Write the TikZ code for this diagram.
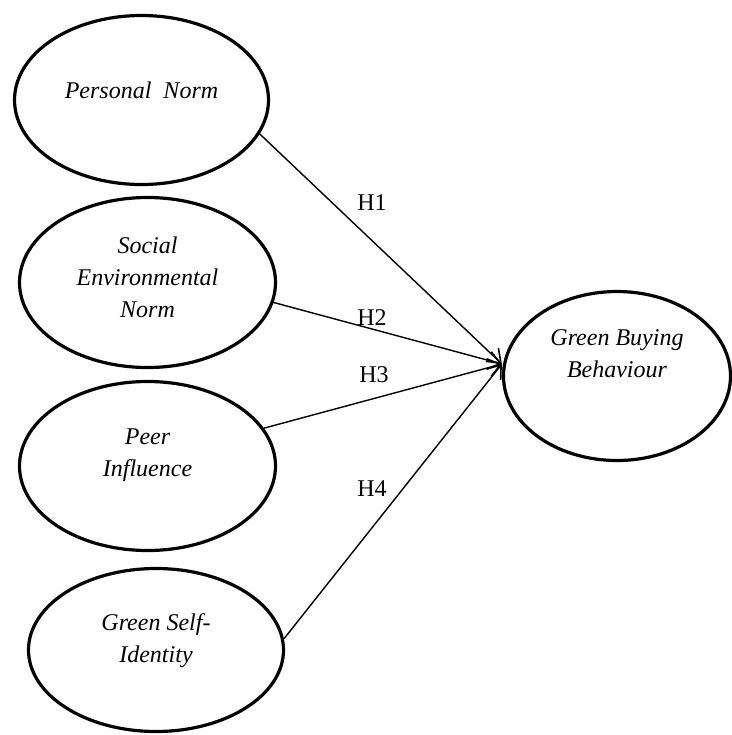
\documentclass[tikz,border=0pt]{standalone}
\usepackage{fontspec}
\setmainfont{Liberation Serif}
\usetikzlibrary{shapes.geometric}
\usetikzlibrary{arrows.meta}

\tikzset{
  construct/.style={ellipse, draw, line width=1.6pt, inner sep=0pt},
  ctext/.style={align=center, font=\fontsize{12}{16}\selectfont\itshape},
  hyp/.style={font=\fontsize{12}{14}\selectfont, inner sep=1pt},
  arr/.style={line width=0.7pt, -{Straight Barb[length=6pt,width=9pt,line width=0.8pt]}},
}

\begin{document}
\begin{tikzpicture}[x=0.5pt, y=-0.5pt]
\useasboundingbox (0,0) rectangle (732,735);
\node[construct, minimum width=127pt, minimum height=84.5pt,
  label={[ctext, yshift=5pt]center:Personal~~Norm}] (pn) at (141.5,100) {};
\node[construct, minimum width=128pt, minimum height=85pt,
  label={[ctext, yshift=2.75pt]center:{Social\\Environmental\\Norm}}] (se) at (147.5,282.5) {};
\node[construct, minimum width=128pt, minimum height=84.5pt,
  label={[ctext, yshift=5.5pt]center:{Peer\\Influence}}] (pi) at (147.5,466) {};
\node[construct, minimum width=127.5pt, minimum height=81.5pt,
  label={[ctext, yshift=4.5pt]center:{Green Self-\\Identity}}] (gsi) at (156,650) {};
\node[construct, minimum width=113.5pt, minimum height=84.5pt,
  label={[ctext, yshift=11pt]center:{Green Buying\\Behaviour}}] (gbb) at (617,376) {};
\coordinate (tip) at ([yshift=6pt]gbb.west);
\foreach \src/\ang in {pn/-16, se/-9, pi/18, gsi/5} {
 \draw[arr] (\src.\ang) -- (tip);
}
\node[hyp] (h1) at (372,203) {H1};
\node[hyp] (h2) at (372,318) {H2};
\node[hyp] (h3) at (374,375) {H3};
\node[hyp] (h4) at (372,489) {H4};
\end{tikzpicture}
\end{document}
